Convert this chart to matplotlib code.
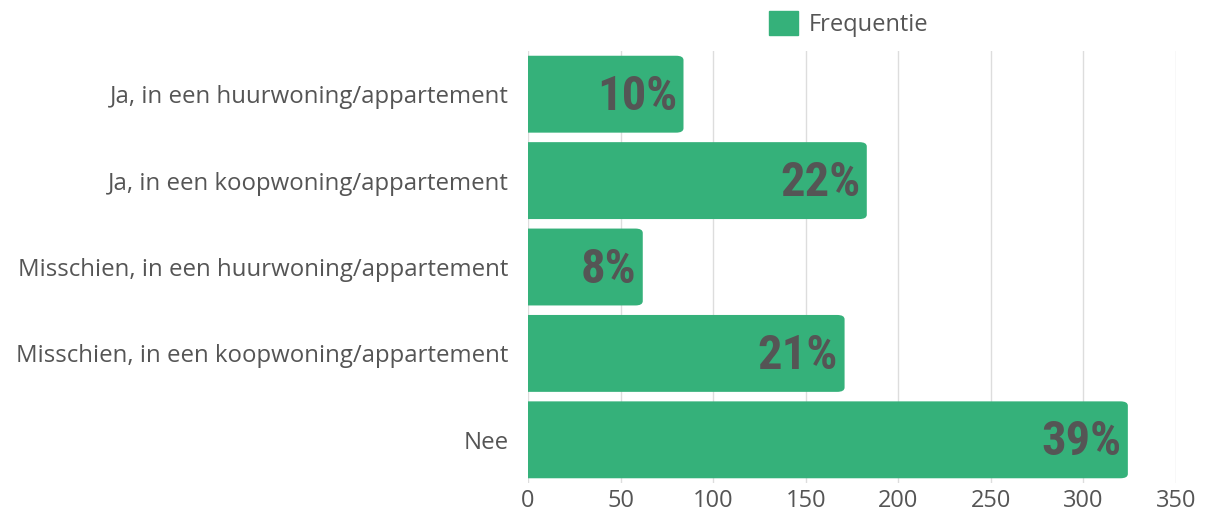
"""Horizontal bar chart: Frequentie per woonwens."""

import matplotlib

matplotlib.use("Agg")

import matplotlib.pyplot as plt
from matplotlib.patches import FancyBboxPatch

categories = [
    "Ja, in een huurwoning/appartement",
    "Ja, in een koopwoning/appartement",
    "Misschien, in een huurwoning/appartement",
    "Misschien, in een koopwoning/appartement",
    "Nee",
]
frequencies = [84, 183, 62, 171, 324]
percent_labels = ["10%", "22%", "8%", "21%", "39%"]
x_ticks = [0, 50, 100, 150, 200, 250, 300, 350]

GREEN = "#35b17a"
TEXT = "#555555"
NARROW = [
    "Roboto Condensed",
    "Open Sans Condensed",
    "Liberation Sans Narrow",
    "DejaVu Sans Condensed",
    "Noto Sans",
    "DejaVu Sans",
]

plt.rcParams["font.family"] = ["Open Sans", "DejaVu Sans"]

fig = plt.figure(figsize=(12.09, 5.12), dpi=100)
ax = fig.add_axes([0.4367, 0.0566, 0.536, 0.8438])

positions = list(range(len(categories)))
bars = ax.barh(positions, frequencies, height=0.89, color=GREEN, label="Frequentie")

ax.set_xlim(0, 350)
ax.set_ylim(len(categories) - 0.5, -0.5)

# swap square bars for rounded ones (left side clipped by the axes)
radius_x = 4.0
for bar in bars:
    x0, y0 = bar.get_x(), bar.get_y()
    w, h = bar.get_width(), bar.get_height()
    bar.set_visible(False)
    rounded = FancyBboxPatch(
        (x0 - 10 + radius_x, y0 + 0.05),
        w + 10 - 2 * radius_x,
        h - 0.1,
        boxstyle=f"round,pad={radius_x},rounding_size={radius_x}",
        mutation_aspect=0.0125,
        facecolor=GREEN,
        edgecolor="none",
        clip_on=True,
        zorder=2,
    )
    ax.add_patch(rounded)

for pos, value, label in zip(positions, frequencies, percent_labels):
    ax.text(
        value - 3.5,
        pos + 0.03,
        label,
        ha="right",
        va="center",
        fontsize=35,
        fontweight="bold",
        fontstretch="condensed",
        family=NARROW,
        color=TEXT,
        zorder=3,
    )

ax.set_yticks(positions)
ax.set_yticklabels(categories, fontsize=17.3, color=TEXT)
ax.set_xticks(x_ticks)
ax.set_xticklabels([str(t) for t in x_ticks], fontsize=17, color=TEXT)
ax.tick_params(axis="both", length=0, pad=14)
ax.tick_params(axis="x", pad=4)
ax.grid(axis="x", color="#dddddd", lw=1)
ax.set_axisbelow(True)
for spine in ax.spines.values():
    spine.set_visible(False)

handle = plt.Rectangle((0, 0), 1, 1, color=GREEN)
fig.legend(
    [handle],
    ["Frequentie"],
    loc="center",
    bbox_to_anchor=(0.702, 0.953),
    frameon=False,
    fontsize=17,
    labelcolor=TEXT,
    handlelength=1.2,
    handleheight=1.2,
    handletextpad=0.45,
)

fig.savefig("out.png", dpi=100)
